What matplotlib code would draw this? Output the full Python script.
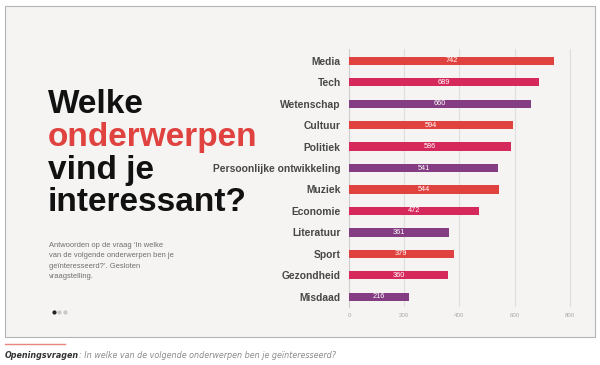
import matplotlib
matplotlib.use('Agg')
import matplotlib.pyplot as plt
from matplotlib.patches import Rectangle
import numpy as np

# data
topics = ['Media', 'Tech', 'Wetenschap', 'Cultuur', 'Politiek',
          'Persoonlijke ontwikkeling', 'Muziek', 'Economie', 'Literatuur',
          'Sport', 'Gezondheid', 'Misdaad']
counts = [742, 689, 660, 594, 586, 541, 544, 472, 361, 379, 360, 216]
x_ticks = [0, 200, 400, 600, 800]

palette = ['#df423f', '#d6295b', '#843d82']

W, H = 600, 365
fig = plt.figure(figsize=(W / 100, H / 100), dpi=100, facecolor='white')


def fx(px):
    return px / W


def fy(py):
    return 1 - py / H


# slide panel
fig.patches.append(Rectangle((fx(5), fy(337)), fx(590), (337 - 6) / H,
                             transform=fig.transFigure, facecolor='#f5f4f2',
                             edgecolor='#b4b4b4', linewidth=0.8, zorder=-5))

# title block
title_font = 'Liberation Sans'
title_lines = [('Welke', '#111111', 113), ('onderwerpen', '#df423f', 146),
               ('vind je', '#111111', 179), ('interessant?', '#111111', 211)]
for txt, col, py in title_lines:
    fig.text(fx(48), fy(py), txt, fontsize=24, fontweight='bold',
             family=title_font, color=col)

sub = ["Antwoorden op de vraag \u2018In welke",
       "van de volgende onderwerpen ben je",
       "ge\u00efnteresseerd?\u2019. Gesloten",
       "vraagstelling."]
for i, line in enumerate(sub):
    fig.text(fx(49), fy(247 + i * 10.4), line, fontsize=5.4,
             family=title_font, color='#6e6e6e')

# carousel dots
for i, c in enumerate(['#222222', '#c8c8c8', '#c8c8c8']):
    fig.add_artist(plt.Line2D([fx(53.5 + i * 5.5)], [fy(312)],
                              transform=fig.transFigure, marker='o',
                              markersize=2.0, color=c, linestyle='none'))

# chart
ax = fig.add_axes([fx(349), fy(307), fx(581 - 349), (307 - 49) / H])
ax.set_zorder(2)
ax.set_facecolor('none')
y = np.arange(len(topics))
colors = [palette[i % 3] for i in range(len(topics))]
bars = ax.barh(y, counts, height=0.39, color=colors, zorder=3)
for b, v in zip(bars, counts):
    ax.text(v / 2, b.get_y() + b.get_height() / 2, str(v), ha='center',
            va='center', fontsize=5.3, color='white', family=title_font,
            zorder=4)

ax.set_ylim(len(topics) - 0.52, -0.55)
ax.set_xlim(0, 840)
ax.set_yticks(y)
ax.set_yticklabels(topics, fontsize=7.4, fontweight='bold', family=title_font,
                   color='#474747')
ax.set_xticks(x_ticks)
ax.set_xticklabels([str(t) for t in x_ticks], fontsize=4.4,
                   family=title_font, color='#aaaaaa')
ax.tick_params(axis='y', length=0, pad=6)
ax.tick_params(axis='x', length=0, pad=4)
ax.grid(axis='x', color='#dedede', linewidth=0.8, zorder=0)
for s in ['top', 'right', 'bottom']:
    ax.spines[s].set_visible(False)
ax.spines['left'].set_color('#cfcfcf')
ax.spines['left'].set_linewidth(0.8)

# caption below panel
fig.add_artist(plt.Line2D([fx(5), fx(65)], [fy(344), fy(344)],
                          transform=fig.transFigure, color='#e9877d',
                          linewidth=1.0))
cap = fig.text(fx(5), fy(358), 'Openingsvragen', fontsize=5.8,
               fontweight='bold', fontstyle='italic', family='DejaVu Sans',
               color='#333333')
fig.canvas.draw()
bb = cap.get_window_extent()
fig.text(bb.x1 / W, fy(358),
         ': In welke van de volgende onderwerpen ben je ge\u00efnteresseerd?',
         fontsize=5.8, fontstyle='italic', family='DejaVu Sans',
         color='#8a8a8a')

fig.savefig('out.png', dpi=100, facecolor='white')
